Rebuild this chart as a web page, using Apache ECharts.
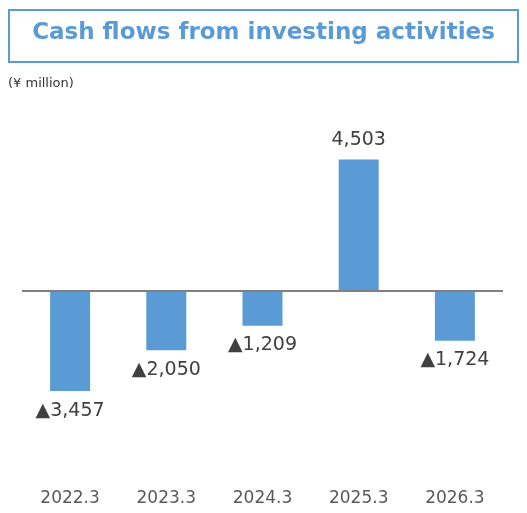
<!DOCTYPE html>
<html>
<head>
<meta charset="utf-8">
<script src="https://cdn.jsdelivr.net/npm/echarts@6/dist/echarts.min.js"></script>
<style>
html, body { margin: 0; padding: 0; background: #fff; }
#main { width: 527px; height: 513px; }
</style>
</head>
<body>
<div id="main"></div>
<script>
var categories = ['2022.3', '2023.3', '2024.3', '2025.3', '2026.3'];
var values = [-3457, -2050, -1209, 4503, -1724];

var chart = echarts.init(document.getElementById('main'));

function fmt(v) {
    var s = Math.abs(v).toLocaleString('en-US');
    return v < 0 ? '▲' + s : s;
}

chart.setOption({
    backgroundColor: '#ffffff',
    animation: false,
    graphic: [
        {
            type: 'rect',
            shape: { x: 9, y: 10, width: 509, height: 52 },
            style: { fill: '#fff', stroke: '#5B9BD5', lineWidth: 2 }
        },
        {
            type: 'text',
            left: 'center',
            top: 22,
            style: {
                text: 'Cash flows from investing activities',
                font: 'bold 23px Verdana, "DejaVu Sans", sans-serif',
                fill: '#5B9BD5'
            }
        },
        {
            type: 'text',
            left: 8,
            top: 77,
            style: { text: '(¥ million)', font: '13px "DejaVu Sans", sans-serif', fill: '#333' }
        }
    ],
    grid: { left: 22, right: 24, top: 116, bottom: 77 },
    xAxis: {
        type: 'category',
        data: categories,
        axisLine: { show: false },
        axisTick: { show: false },
        axisLabel: { margin: 54, fontSize: 17, color: '#595959', fontFamily: '"DejaVu Sans", sans-serif' }
    },
    yAxis: {
        type: 'value',
        min: -5000,
        max: 6000,
        show: false,
        splitLine: { show: false }
    },
    series: [{
        type: 'bar',
        data: values.map(function (v) {
            return {
                value: v,
                label: { position: v < 0 ? 'bottom' : 'top' }
            };
        }),
        barWidth: 40,
        itemStyle: { color: '#5B9BD5' },
        label: {
            show: true,
            distance: 10,
            fontSize: 19,
            color: '#404040',
            fontFamily: '"DejaVu Sans", sans-serif',
            formatter: function (p) { return fmt(p.value); }
        },
        markLine: {
            silent: true,
            symbol: 'none',
            label: { show: false },
            lineStyle: { color: '#808080', width: 2, type: 'solid' },
            data: [{ yAxis: 0 }]
        }
    }]
});
</script>
</body>
</html>
